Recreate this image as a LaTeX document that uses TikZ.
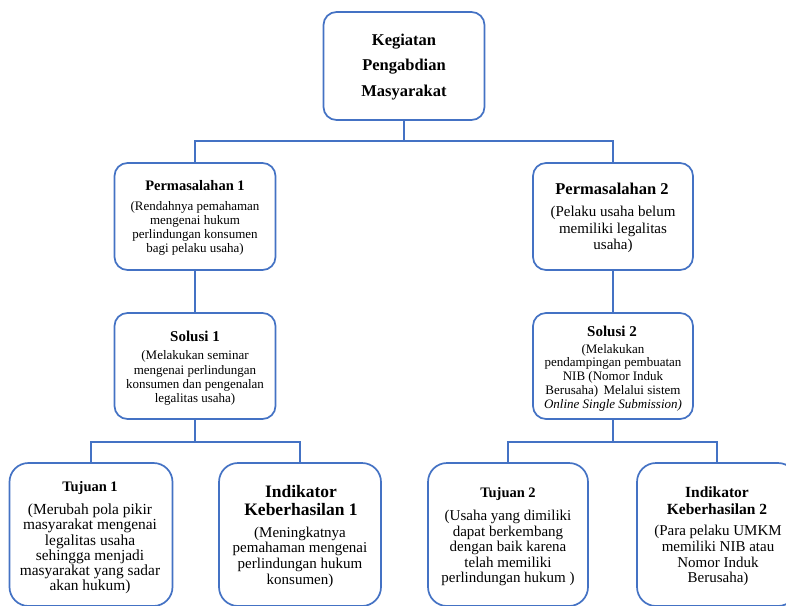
\documentclass[tikz,border=0pt]{standalone}
\usepackage{fontspec}
\setmainfont{Liberation Serif}
\definecolor{boxblue}{RGB}{68,114,196}
\begin{document}
\begin{tikzpicture}[x=1pt,y=-1pt,
  box/.style={draw=boxblue, line width=1.7pt, rounded corners=13pt, fill=white, inner sep=0pt},
  bigbox/.style={box, rounded corners=19pt},
  conn/.style={draw=boxblue, line width=1.6pt},
  ttl/.style={inner sep=0pt, align=center, font=\bfseries},
  body/.style={inner sep=0pt, align=center}]
\clip (0,0) rectangle (786,605);
\useasboundingbox (0,0) rectangle (786,605);
\fill[white] (0,0) rectangle (786,605);

% boxes
\node[box, minimum width=161, minimum height=108] (top) at (404,66) {};
\node[box, minimum width=161, minimum height=107] (p1) at (195,216.5) {};
\node[box, minimum width=160, minimum height=107] (p2) at (613,216.5) {};
\node[box, minimum width=161, minimum height=106] (s1) at (195,366) {};
\node[box, minimum width=160, minimum height=106] (s2) at (613,366) {};
\node[bigbox, minimum width=163, minimum height=143] (t1) at (91,534.5) {};
\node[bigbox, minimum width=162, minimum height=143] (i1) at (300,534.5) {};
\node[bigbox, minimum width=160, minimum height=143] (t2) at (508,534.5) {};
\node[bigbox, minimum width=160, minimum height=143] (i2) at (717,534.5) {};

% connectors
\coordinate (j0) at (404,141);
\coordinate (j1) at (195,442);
\coordinate (j2) at (613,442);
\draw[conn] (top.south) -- (j0);
\draw[conn] (p1.north) |- (j0) -| (p2.north);
\draw[conn] (p1.south) -- (s1.north);
\draw[conn] (p2.south) -- (s2.north);
\draw[conn] (s1.south) -- (j1);
\draw[conn] (t1.north) |- (j1) -| (i1.north);
\draw[conn] (s2.south) -- (j2);
\draw[conn] (t2.north) |- (j2) -| (i2.north);

% texts
\node[ttl, font=\bfseries\fontsize{16.5}{25.5}\selectfont] (toptxt) at (404,67) {Kegiatan\\ Pengabdian\\ Masyarakat};

\node[ttl, font=\bfseries\fontsize{14.5}{17}\selectfont] (p1t) at (195,186) {Permasalahan 1};
\node[body, font=\fontsize{13}{14}\selectfont] (p1b) at (195,228.5) {(Rendahnya pemahaman\\ mengenai hukum\\ perlindungan konsumen\\ bagi pelaku usaha)};

\node[ttl, font=\bfseries\fontsize{16.5}{19}\selectfont] (p2t) at (612,188.5) {Permasalahan 2};
\node[body, font=\fontsize{15}{16.5}\selectfont] (p2b) at (613,229.5) {(Pelaku usaha belum\\ memiliki legalitas\\ usaha)};

\node[ttl, font=\bfseries\fontsize{15}{17}\selectfont] (s1t) at (195,336) {Solusi 1};
\node[body, font=\fontsize{13}{14.2}\selectfont] (s1b) at (195,378) {(Melakukan seminar\\ mengenai perlindungan\\ konsumen dan pengenalan\\ legalitas usaha)};

\node[ttl, font=\bfseries\fontsize{15}{17}\selectfont] (s2t) at (612,331) {Solusi 2};
\node[body, font=\fontsize{13}{13.8}\selectfont] (s2b) at (613,377.5) {(Melakukan\\ pendampingan pembuatan\\ NIB (Nomor Induk\\ Berusaha)\, Melalui sistem\\ \textit{Online Single Submission)}};

\node[ttl, font=\bfseries\fontsize{14.5}{17}\selectfont] (t1t) at (90,488) {Tujuan 1};
\node[body, font=\fontsize{15.4}{15.3}\selectfont] (t1b) at (90,549) {(Merubah pola pikir\\ masyarakat mengenai\\ legalitas usaha\\ sehingga menjadi\\ masyarakat yang sadar\\ akan hukum)};

\node[ttl, font=\bfseries\fontsize{17.5}{18.5}\selectfont] (i1t) at (301,500.5) {Indikator\\ Keberhasilan 1};
\node[body, font=\fontsize{15}{15.6}\selectfont] (i1b) at (300,557) {(Meningkatnya\\ pemahaman mengenai\\ perlindungan hukum\\ konsumen)};

\node[ttl, font=\bfseries\fontsize{14.5}{17}\selectfont] (t2t) at (508,494) {Tujuan 2};
\node[body, font=\fontsize{15}{15.5}\selectfont] (t2b) at (508,548) {(Usaha yang dimiliki\\ dapat berkembang\\ dengan baik karena\\ telah memiliki\\ perlindungan hukum )};

\node[ttl, font=\bfseries\fontsize{15.5}{17}\selectfont] (i2t) at (717,501) {Indikator\\ Keberhasilan 2};
\node[body, font=\fontsize{15}{15.9}\selectfont] (i2b) at (718,555.5) {(Para pelaku UMKM\\ memiliki NIB atau\\ Nomor Induk\\ Berusaha)};
\end{tikzpicture}
\end{document}
